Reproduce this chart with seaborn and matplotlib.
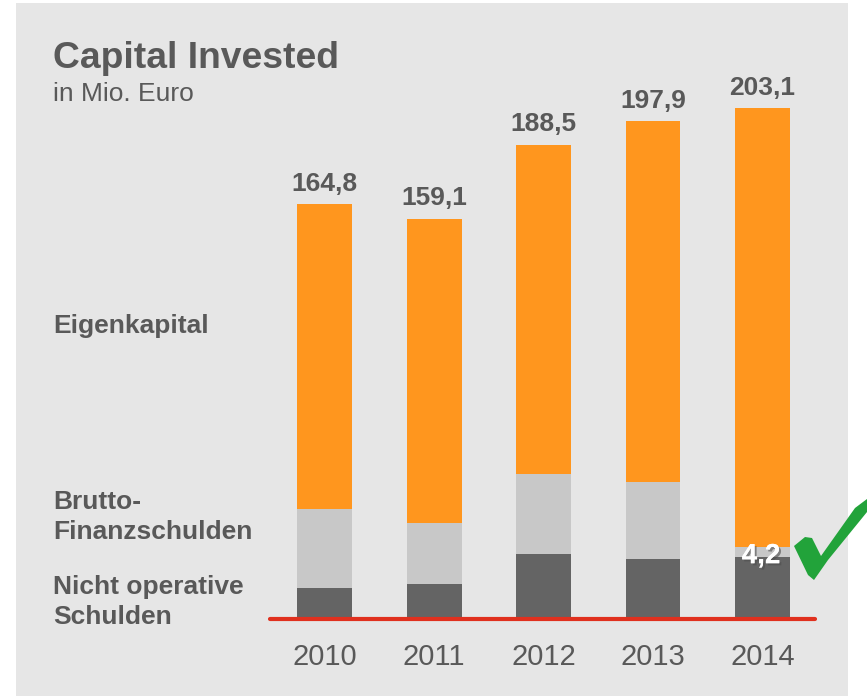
import matplotlib
matplotlib.use('Agg')
import matplotlib.pyplot as plt
import matplotlib.patheffects as pe
from matplotlib.patches import Rectangle, Polygon
import pandas as pd
import seaborn as sns

# ── data ──────────────────────────────────────────────────────────────────
years = ['2010', '2011', '2012', '2013', '2014']
totals = [164.8, 159.1, 188.5, 197.9, 203.1]           # Capital Invested
nicht_operative = [12.4, 14.0, 25.8, 24.0, 24.5]       # Nicht operative Schulden
brutto_finanz = [31.2, 24.2, 31.8, 30.6, 4.2]          # Brutto-Finanzschulden
total_labels = ['164,8', '159,1', '188,5', '197,9', '203,1']

df = pd.DataFrame({'Jahr': years, 'Gesamt': totals,
                   'Nicht': nicht_operative, 'Brutto': brutto_finanz})
df['Schulden'] = df['Nicht'] + df['Brutto']

TXT = '#595959'
ORANGE = '#FF961E'
LIGHT = '#C8C8C8'
DARK = '#646464'

sns.set_theme(style='white')
plt.rcParams['font.family'] = ['Liberation Sans', 'DejaVu Sans']

W, H = 867, 696
fig = plt.figure(figsize=(W / 100, H / 100), dpi=100, facecolor='white')
fig.patches.append(Rectangle((16 / W, 0), (848 - 16) / W, (696 - 3) / H,
                             transform=fig.transFigure, facecolor='#E6E6E6',
                             edgecolor='none', zorder=-1))

ax = fig.add_axes([270 / W, 77 / H, 545 / W, 604 / H])
ax.set_facecolor('none')

# stacked bars: draw cumulative heights from top down
sns.barplot(data=df, x='Jahr', y='Gesamt', color=ORANGE, saturation=1, width=0.5,
            linewidth=0, ax=ax)
sns.barplot(data=df, x='Jahr', y='Schulden', color=LIGHT, saturation=1, width=0.5,
            linewidth=0, ax=ax)
sns.barplot(data=df, x='Jahr', y='Nicht', color=DARK, saturation=1, width=0.5,
            linewidth=0, ax=ax)

ax.set_xlim(-0.5, 4.48)
ax.set_ylim(0, 240)
ax.axhline(0, color='#E0301E', lw=3, clip_on=False, zorder=5)
sns.despine(ax=ax, left=True, bottom=True)
ax.set_yticks([])
ax.set_xlabel('')
ax.set_ylabel('')
ax.tick_params(axis='x', length=0, pad=17, labelsize=21, labelcolor=TXT)

for i, (t, lab) in enumerate(zip(totals, total_labels)):
    ax.annotate(lab, (i, t), xytext=(0, 6), textcoords='offset points',
                ha='center', va='bottom', fontsize=19, fontweight='bold', color=TXT)

# small debt value 2014
ax.annotate('4,2', (4, nicht_operative[4] + brutto_finanz[4] / 2), xytext=(-1, -3),
            textcoords='offset points', ha='center', va='center',
            fontsize=20, fontweight='bold', color='white', zorder=6,
            path_effects=[pe.withSimplePatchShadow(offset=(1.5, -1.5), alpha=0.6), pe.Normal()])

# titles
fig.text(53 / W, 1 - 68 / H, 'Capital Invested', fontsize=26.8, fontweight='bold',
         color=TXT, va='baseline')
fig.text(53 / W, 1 - 101 / H, 'in Mio. Euro', fontsize=19, color=TXT, va='baseline')

# series labels on the left
fig.text(53 / W, 1 - 326 / H, 'Eigenkapital', fontsize=19, fontweight='bold',
         color=TXT, va='center')
fig.text(53 / W, 1 - 517 / H, 'Brutto-\nFinanzschulden', fontsize=19, fontweight='bold',
         color=TXT, va='center', linespacing=1.32)
fig.text(53 / W, 1 - 602 / H, 'Nicht operative\nSchulden', fontsize=19, fontweight='bold',
         color=TXT, va='center', linespacing=1.32)

# green check mark
check = [(794, 546), (805, 537), (812, 538), (821, 556), (855, 508), (867, 499),
         (867, 512), (828, 560), (814, 580), (808, 575)]
fig.patches.append(Polygon([(x / W, 1 - y / H) for x, y in check], closed=True,
                           transform=fig.transFigure, facecolor='#22A33A',
                           edgecolor='none', zorder=7))

fig.savefig('out.png', dpi=100)
